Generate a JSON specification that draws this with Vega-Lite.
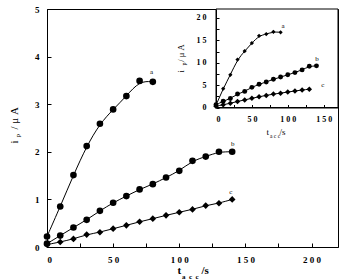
{
  "$schema": "https://vega.github.io/schema/vega-lite/v6.json",
  "width": 291,
  "height": 238,
  "autosize": "none",
  "padding": {"left": 47, "top": 9, "right": 2, "bottom": 32},
  "background": "white",
  "config": {
    "view": {"stroke": "black", "strokeWidth": 1},
    "axis": {
      "grid": false,
      "labelFont": "Liberation Serif",
      "labelFontWeight": "bold",
      "labelColor": "black",
      "labelOverlap": false,
      "titleFont": "Liberation Serif",
      "titleColor": "black",
      "domainColor": "black",
      "tickColor": "black"
    }
  },
  "datasets": {
    "main": [
      {"series": "a", "t": 0, "v": 0.22}, {"series": "a", "t": 10, "v": 0.85}, {"series": "a", "t": 20, "v": 1.51},
      {"series": "a", "t": 30, "v": 2.12}, {"series": "a", "t": 40, "v": 2.59}, {"series": "a", "t": 50, "v": 2.89},
      {"series": "a", "t": 60, "v": 3.17}, {"series": "a", "t": 70, "v": 3.49}, {"series": "a", "t": 80, "v": 3.47},
      {"series": "b", "t": 0, "v": 0.07}, {"series": "b", "t": 10, "v": 0.24}, {"series": "b", "t": 20, "v": 0.41},
      {"series": "b", "t": 30, "v": 0.57}, {"series": "b", "t": 40, "v": 0.76}, {"series": "b", "t": 50, "v": 0.93},
      {"series": "b", "t": 60, "v": 1.07}, {"series": "b", "t": 70, "v": 1.21}, {"series": "b", "t": 80, "v": 1.32},
      {"series": "b", "t": 90, "v": 1.46}, {"series": "b", "t": 100, "v": 1.6}, {"series": "b", "t": 110, "v": 1.81},
      {"series": "b", "t": 120, "v": 1.9}, {"series": "b", "t": 130, "v": 2.0}, {"series": "b", "t": 140, "v": 2.0},
      {"series": "c", "t": 0, "v": 0.05}, {"series": "c", "t": 10, "v": 0.105}, {"series": "c", "t": 20, "v": 0.17},
      {"series": "c", "t": 30, "v": 0.26}, {"series": "c", "t": 40, "v": 0.31}, {"series": "c", "t": 50, "v": 0.385},
      {"series": "c", "t": 60, "v": 0.455}, {"series": "c", "t": 70, "v": 0.53}, {"series": "c", "t": 80, "v": 0.595},
      {"series": "c", "t": 90, "v": 0.665}, {"series": "c", "t": 100, "v": 0.73}, {"series": "c", "t": 110, "v": 0.79},
      {"series": "c", "t": 120, "v": 0.87}, {"series": "c", "t": 130, "v": 0.92}, {"series": "c", "t": 140, "v": 1.0}
    ],
    "inset": [
      {"series": "a", "t": 0, "v": 0.5}, {"series": "a", "t": 10, "v": 4.2}, {"series": "a", "t": 20, "v": 7.3},
      {"series": "a", "t": 30, "v": 10.7}, {"series": "a", "t": 40, "v": 12.6}, {"series": "a", "t": 50, "v": 14.4},
      {"series": "a", "t": 60, "v": 16.0}, {"series": "a", "t": 70, "v": 16.4}, {"series": "a", "t": 80, "v": 16.9},
      {"series": "a", "t": 90, "v": 16.8},
      {"series": "b", "t": 0, "v": 0.6}, {"series": "b", "t": 10, "v": 1.4}, {"series": "b", "t": 20, "v": 2.0},
      {"series": "b", "t": 30, "v": 3.0}, {"series": "b", "t": 40, "v": 3.6}, {"series": "b", "t": 50, "v": 4.5},
      {"series": "b", "t": 60, "v": 5.2}, {"series": "b", "t": 70, "v": 5.7}, {"series": "b", "t": 80, "v": 6.3},
      {"series": "b", "t": 90, "v": 6.8}, {"series": "b", "t": 100, "v": 7.3}, {"series": "b", "t": 110, "v": 7.8},
      {"series": "b", "t": 120, "v": 8.4}, {"series": "b", "t": 130, "v": 9.2}, {"series": "b", "t": 140, "v": 9.3},
      {"series": "c", "t": 0, "v": 0.3}, {"series": "c", "t": 10, "v": 0.6}, {"series": "c", "t": 20, "v": 0.95},
      {"series": "c", "t": 30, "v": 1.35}, {"series": "c", "t": 40, "v": 1.7}, {"series": "c", "t": 50, "v": 2.05},
      {"series": "c", "t": 60, "v": 2.4}, {"series": "c", "t": 70, "v": 2.7}, {"series": "c", "t": 80, "v": 3.0},
      {"series": "c", "t": 90, "v": 3.2}, {"series": "c", "t": 100, "v": 3.45}, {"series": "c", "t": 110, "v": 3.7},
      {"series": "c", "t": 120, "v": 3.9}, {"series": "c", "t": 130, "v": 4.1}
    ],
    "mainLabels": [
      {"series": "a", "t": 79, "v": 3.68},
      {"series": "b", "t": 140.4, "v": 2.16},
      {"series": "c", "t": 138.9, "v": 1.16}
    ],
    "insetLabels": [
      {"series": "a", "t": 93.4, "v": 18.3},
      {"series": "b", "t": 140.9, "v": 10.9},
      {"series": "c", "t": 148.8, "v": 5.05}
    ]
  },
  "layer": [
    {
      "data": {"name": "main"},
      "layer": [
        {
          "mark": {"type": "line", "interpolate": "basis", "color": "black", "strokeWidth": 1},
          "encoding": {
            "x": {
              "field": "t", "type": "quantitative",
              "scale": {"domain": [0, 220], "nice": false},
              "axis": {
                "orient": "bottom",
                "values": [0, 25, 50, 75, 100, 125, 150, 175, 200],
                "format": "d",
                "labelExpr": "datum.value % 50 === 0 ? join(split(datum.label, ''), ' ') : ''",
                "tickSize": -4, "labelPadding": 12, "labelFontSize": 9,
                "title": "t",
                "titleFontSize": 11, "titleFontWeight": "bold",
                "titleAlign": "left", "titleBaseline": "alphabetic",
                "titleX": 130, "titleY": 26
              }
            },
            "y": {
              "field": "v", "type": "quantitative",
              "scale": {"domain": [0, 5], "nice": false},
              "axis": {
                "orient": "left",
                "values": [0, 0.5, 1, 1.5, 2, 2.5, 3, 3.5, 4, 4.5, 5],
                "format": "d",
                "labelExpr": "datum.value % 1 === 0 ? datum.label : ''",
                "tickSize": -4, "labelPadding": 12, "labelFontSize": 9,
                "title": "i\u00a0\u00a0\u00a0\u00a0/\u00a0μ\u00a0A",
                "titleFontSize": 11, "titleFontWeight": "normal",
                "titleAngle": -90, "titleAlign": "left", "titleBaseline": "alphabetic",
                "titleX": -30, "titleY": 134
              }
            },
            "detail": {"field": "series"}
          }
        },
        {
          "mark": {"type": "point", "filled": true, "color": "black", "opacity": 1},
          "encoding": {
            "x": {
              "field": "t", "type": "quantitative",
              "axis": {
                "orient": "bottom", "domain": false, "ticks": false, "labels": false,
                "title": "/s", "titleFontSize": 11, "titleFontWeight": "bold",
                "titleAlign": "left", "titleBaseline": "alphabetic",
                "titleX": 154, "titleY": 26
              }
            },
            "y": {"field": "v", "type": "quantitative", "axis": null},
            "shape": {"field": "series", "type": "nominal", "scale": {"domain": ["a", "b", "c"], "range": ["circle", "circle", "diamond"]}, "legend": null},
            "size": {"field": "series", "type": "ordinal", "scale": {"domain": ["a", "b", "c"], "range": [44, 44, 24]}, "legend": null}
          }
        },
        {
          "data": {"name": "mainLabels"},
          "mark": {"type": "text", "font": "Liberation Serif", "fontSize": 7, "baseline": "middle", "color": "black"},
          "encoding": {
            "x": {
              "field": "t", "type": "quantitative",
              "axis": {
                "orient": "bottom", "domain": false, "ticks": false, "labels": false,
                "title": "a\u00a0\u00a0c\u00a0\u00a0c", "titleFontSize": 7, "titleFontWeight": "bold",
                "titleAlign": "left", "titleBaseline": "alphabetic",
                "titleX": 134.5, "titleY": 31
              }
            },
            "y": {
              "field": "v", "type": "quantitative",
              "axis": {
                "orient": "left", "domain": false, "ticks": false, "labels": false,
                "title": "p", "titleFontSize": 7, "titleFontWeight": "normal",
                "titleAngle": -90, "titleAlign": "left", "titleBaseline": "alphabetic",
                "titleX": -27.5, "titleY": 128
              }
            },
            "text": {"field": "series"}
          }
        }
      ],
      "resolve": {"axis": {"x": "independent", "y": "independent"}}
    },
    {
      "layer": [
        {
          "data": {"values": [{}]},
          "mark": {"type": "rect", "fill": "white", "stroke": "black", "strokeWidth": 1},
          "encoding": {
            "x": {
              "datum": 0, "type": "quantitative",
              "scale": {"domain": [0, 170], "range": [169, 291], "nice": false},
              "axis": {
                "orient": "bottom", "offset": -139.5, "zindex": 1,
                "values": [0, 25, 50, 75, 100, 125, 150],
                "format": "d",
                "labelExpr": "datum.value % 50 === 0 ? join(split(datum.label, ''), ' ') : ''",
                "tickSize": -3, "labelPadding": 10.5, "labelFontSize": 8,
                "title": "t",
                "titleFontSize": 9, "titleFontWeight": "normal",
                "titleAlign": "left", "titleBaseline": "alphabetic",
                "titleX": 219, "titleY": 27
              }
            },
            "x2": {"datum": 170},
            "y": {
              "datum": 0, "type": "quantitative",
              "scale": {"domain": [0, 22], "range": [98.5, 0], "nice": false},
              "axis": {
                "orient": "left", "offset": -169, "zindex": 1,
                "values": [0, 2.5, 5, 7.5, 10, 12.5, 15, 17.5, 20],
                "format": "d",
                "labelExpr": "datum.value % 5 === 0 ? join(split(datum.label, ''), ' ') : ''",
                "tickSize": -3, "labelPadding": 13, "labelFontSize": 8,
                "title": "i\u00a0\u00a0\u00a0\u00a0/\u00a0μ\u00a0A",
                "titleFontSize": 8.5, "titleFontWeight": "normal",
                "titleAngle": -90, "titleAlign": "left", "titleBaseline": "alphabetic",
                "titleX": -33, "titleY": 63
              }
            },
            "y2": {"datum": 22}
          }
        },
        {
          "data": {"name": "inset"},
          "mark": {"type": "line", "interpolate": "basis", "color": "black", "strokeWidth": 1},
          "encoding": {
            "x": {"field": "t", "type": "quantitative", "axis": null},
            "y": {"field": "v", "type": "quantitative", "axis": null},
            "detail": {"field": "series"}
          }
        },
        {
          "data": {"name": "inset"},
          "mark": {"type": "point", "filled": true, "color": "black", "opacity": 1},
          "encoding": {
            "x": {
              "field": "t", "type": "quantitative",
              "axis": {
                "orient": "bottom", "offset": -139.5, "zindex": 1,
                "domain": false, "ticks": false, "labels": false,
                "title": "/s", "titleFontSize": 9, "titleFontWeight": "normal",
                "titleAlign": "left", "titleBaseline": "alphabetic",
                "titleX": 232, "titleY": 27
              }
            },
            "y": {"field": "v", "type": "quantitative", "axis": null},
            "shape": {"field": "series", "type": "nominal", "scale": {"domain": ["a", "b", "c"], "range": ["diamond", "circle", "diamond"]}, "legend": null},
            "size": {"field": "series", "type": "ordinal", "scale": {"domain": ["a", "b", "c"], "range": [18, 30, 14]}, "legend": null}
          }
        },
        {
          "data": {"name": "insetLabels"},
          "mark": {"type": "text", "font": "Liberation Serif", "fontSize": 7, "baseline": "middle", "color": "black"},
          "encoding": {
            "x": {
              "field": "t", "type": "quantitative",
              "axis": {
                "orient": "bottom", "offset": -139.5, "zindex": 1,
                "domain": false, "ticks": false, "labels": false,
                "title": "a\u00a0c\u00a0c", "titleFontSize": 5.5, "titleFontWeight": "normal",
                "titleAlign": "left", "titleBaseline": "alphabetic",
                "titleX": 222.5, "titleY": 30
              }
            },
            "y": {
              "field": "v", "type": "quantitative",
              "axis": {
                "orient": "left", "offset": -169, "zindex": 1,
                "domain": false, "ticks": false, "labels": false,
                "title": "p", "titleFontSize": 6, "titleFontWeight": "normal",
                "titleAngle": -90, "titleAlign": "left", "titleBaseline": "alphabetic",
                "titleX": -30.5, "titleY": 56
              }
            },
            "text": {"field": "series"}
          }
        }
      ],
      "resolve": {"axis": {"x": "independent", "y": "independent"}}
    }
  ],
  "resolve": {
    "scale": {"x": "independent", "y": "independent", "shape": "independent", "size": "independent"},
    "axis": {"x": "independent", "y": "independent"}
  }
}
